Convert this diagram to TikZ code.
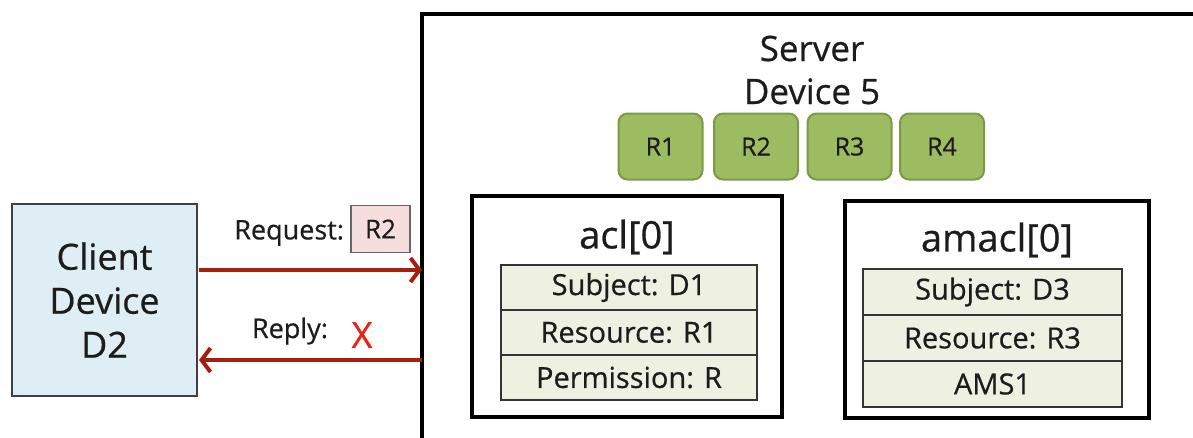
\documentclass[tikz,border=0pt]{standalone}
\usepackage{fontspec}
\setmainfont{Open Sans}[FakeBold=0.6]
\usetikzlibrary{arrows.meta}
\definecolor{txt}{HTML}{1C1C1C}
\definecolor{clientfill}{HTML}{DEEEF4}
\definecolor{resfill}{HTML}{9DBB61}
\definecolor{resdraw}{HTML}{7C9A45}
\definecolor{rowfill}{HTML}{EEF1E2}
\definecolor{reqfill}{HTML}{F6DEDC}
\definecolor{arrowred}{HTML}{A3200F}
\definecolor{xred}{HTML}{E8231A}
\tikzset{
  every node/.style={text=txt, inner sep=0pt, outer sep=0pt},
  client/.style={draw=black!75, fill=clientfill, line width=2pt,
    minimum width=185pt, minimum height=192pt, align=center,
    font=\fontsize{36}{44}\selectfont},
  resbox/.style={draw=resdraw, fill=resfill, line width=2pt, rounded corners=9pt,
    minimum width=84pt, minimum height=66pt, font=\fontsize{25}{28}\selectfont},
  listbox/.style={draw=black, line width=4pt},
  title/.style={font=\fontsize{38}{42}\selectfont},
  rowbox/.style={draw=black!80, fill=rowfill, line width=1.5pt,
    minimum height=45pt, font=\fontsize{29}{32}\selectfont},
  label/.style={font=\fontsize{27}{30}\selectfont},
  msg/.style={draw=arrowred, line width=4pt,
    -{Straight Barb[length=9pt,width=24pt,line width=4pt]}},
}
\begin{document}
\begin{tikzpicture}[x=1pt, y=-1pt]
\clip (0,0) rectangle (1193,437);
\fill[white] (0,0) rectangle (1193,437);

% server device, running past the right and bottom edges
\node[draw=black, line width=4pt, minimum width=800pt, minimum height=440pt,
      anchor=north west] (server) at (422,14) {};
\node[align=center, font=\fontsize{35}{43}\selectfont] (stitle) at (812,70)
  {Server\\Device 5};

% resources
\node[resbox] (r1) at (660.5,146.5) {R1};
\node[resbox] (r2) at (756,146.5) {R2};
\node[resbox] (r3) at (849.5,146.5) {R3};
\node[resbox] (r4) at (942,146.5) {R4};

% acl[0]
\node[listbox, minimum width=310pt, minimum height=221pt] (acl) at (627,306.5) {};
\node[title] (acltitle) at (627,237) {acl[0]};
\node[rowbox, minimum width=256pt] (a1) at (629,287.5) {Subject: D1};
\node[rowbox, minimum width=256pt] (a2) at (629,332.5) {Resource: R1};
\node[rowbox, minimum width=256pt] (a3) at (629,377.5) {Permission: R};

% amacl[0]
\node[listbox, minimum width=304pt, minimum height=217pt] (amacl) at (997,309.5) {};
\node[title] (amacltitle) at (997,240) {amacl[0]};
\node[rowbox, minimum width=259pt, minimum height=46pt] (m1) at (992.5,292) {Subject: D3};
\node[rowbox, minimum width=259pt, minimum height=46pt] (m2) at (992.5,338) {Resource: R3};
\node[rowbox, minimum width=259pt, minimum height=46pt] (m3) at (992.5,384) {AMS1};

% client device
\node[client] (client) at (104.5,300) {Client\\Device\\D2};

% request and reply
\coordinate (reqA) at ([xshift=2pt,yshift=30pt]client.east);
\coordinate (repB) at ([xshift=2pt,yshift=-60pt]client.east);
\draw[msg] (reqA) -- (reqA -| server.west);
\draw[msg] (repB -| server.west) -- (repB);

\node[label, anchor=east] (reqlabel) at (344,233) {Request:};
\node[draw=black!60, fill=reqfill, line width=1.5pt, minimum width=59pt,
      minimum height=47pt, font=\fontsize{26}{28}\selectfont] (reqres) at (380.5,229) {R2};
\node[label, anchor=east] (replabel) at (328,331) {Reply:};
\node[text=xred, font=\fontsize{36}{40}\selectfont] (fail) at (362,335) {X};
\end{tikzpicture}
\end{document}
